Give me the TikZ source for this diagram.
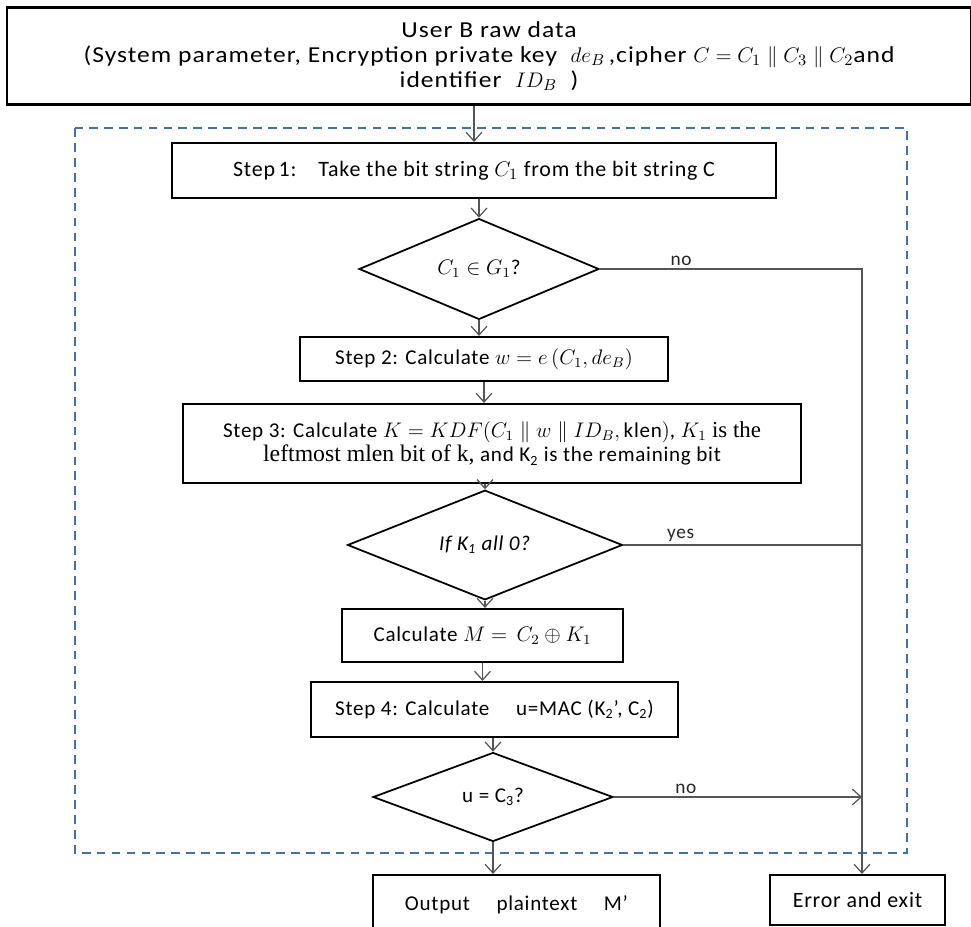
\documentclass[tikz,border=0pt]{standalone}
\usepackage{amsmath,amssymb}
\usepackage{fontspec}
\setmainfont{Carlito}[LetterSpace=3.5]
\newfontfamily\widefont{Carlito}[FakeStretch=1.12,LetterSpace=4.5]
\newfontfamily\seriffont{Liberation Serif}
\usetikzlibrary{positioning,calc,shapes.geometric,arrows.meta}
\definecolor{FrameBlue}{RGB}{68,114,160}
\definecolor{LineGray}{RGB}{85,85,85}
\tikzset{
	box/.style={draw=black,line width=1.2pt,fill=white,inner sep=2pt,align=center,
		font=\fontsize{12}{14}\selectfont},
	decision/.style={diamond,draw=black,line width=1pt,fill=white,inner sep=0pt,align=center,
		font=\fontsize{12}{14}\selectfont},
	flow/.style={draw=LineGray,line width=0.7pt,-{Straight Barb[length=5pt,width=9pt]}},
	wire/.style={draw=LineGray,line width=0.7pt},
	tag/.style={font=\fontsize{11}{12}\selectfont,text=black!85,above,inner sep=1.5pt},
}

\begin{document}
\begin{tikzpicture}[x=0.02cm,y=-0.02cm]
	\useasboundingbox (0,0) rectangle (971,927);
	\draw[FrameBlue,line width=0.9pt,dash pattern=on 5pt off 3.5pt] (75,128) rectangle (907,853);
	\node[box,minimum width=19.3cm,minimum height=1.94cm,font=\widefont\fontsize{13}{14.2}\selectfont] (raw) at (489,56)
		{User B raw data\\
		(System parameter, Encryption private key \ $de_B$\,,cipher $C=C_1\parallel C_3\parallel C_2$and\\
		identifier \ $ID_B$ \ )};
	\node[box,minimum width=12.08cm,minimum height=1.1cm,font=\fontsize{12.5}{14}\selectfont] (step1) at (474,170.5)
		{Step\,1:\quad Take the bit string $C_1$ from the bit string C};
	\node[decision,minimum width=4.8cm,minimum height=1.76cm] (d1) at (479,269) {$C_1\in G_1$?};
	\node[box,minimum width=7.36cm,minimum height=0.88cm] (step2) at (484,359)
		{Step 2: Calculate $w=e\,(C_1,de_B)$};
	\node[box,minimum width=12.38cm,minimum height=1.58cm] (step3) at (492,443.5)
		{Step 3: Calculate $K=KDF(C_1\parallel w\parallel ID_B,\text{klen})$, $K_1$ {\seriffont\fontsize{13}{14}\selectfont is the}\\
		{\seriffont\fontsize{13.5}{14}\selectfont leftmost mlen bit of k,} and K\textsubscript{2} is the remaining bit};
	\node[decision,minimum width=5.5cm,minimum height=1.8cm] (d2) at (485,545)
		{\textit{If K\textsubscript{1} all 0?}};
	\node[box,minimum width=5.62cm,minimum height=1.06cm] (calcM) at (482.5,635.5)
		{Calculate $M=\,C_2\oplus K_1$};
	\node[box,minimum width=7.34cm,minimum height=1.1cm] (step4) at (494.5,709.5)
		{Step 4: Calculate \quad u=MAC (K\textsubscript{2}’, C\textsubscript{2})};
	\node[decision,minimum width=4.8cm,minimum height=1.78cm] (d3) at (493,797)
		{u = C\textsubscript{3}?};
	\node[box,minimum width=5.74cm,minimum height=1.2cm] (out) at (516.5,905)
		{Output \quad plaintext \quad M’};
	\node[box,minimum width=3.5cm,minimum height=1cm,font=\fontsize{12.5}{14}\selectfont] (err) at (857.5,900) {Error and exit};
	\coordinate (bus) at (862,0);
	\draw[flow] (step1.north |- raw.south) -- (step1.north);
	\draw[flow] (step1.south -| d1.north) -- (d1.north);
	\draw[flow] (d1.south) -- (d1.south |- step2.north);
	\draw[flow] (step2.south) -- (step2.south |- step3.north);
	\draw[flow] (step3.south -| d2.north) -- (d2.north);
	\draw[flow] (d2.south) -- (d2.south |- calcM.north);
	\draw[flow] (calcM.south) -- (calcM.south |- step4.north);
	\draw[flow] (step4.south -| d3.north) -- (d3.north);
	\draw[flow] (d3.south) -- (d3.south |- out.north);
	\draw[flow] (d1.east) -- node[tag,pos=0.31]{no} (d1.east -| bus) -- (bus |- err.north);
	\draw[wire] (d2.east) -- node[tag,pos=0.24]{yes} (d2.east -| bus);
	\draw[flow] (d3.east) -- node[tag,pos=0.29]{no} (d3.east -| bus);
\end{tikzpicture}
\end{document}
